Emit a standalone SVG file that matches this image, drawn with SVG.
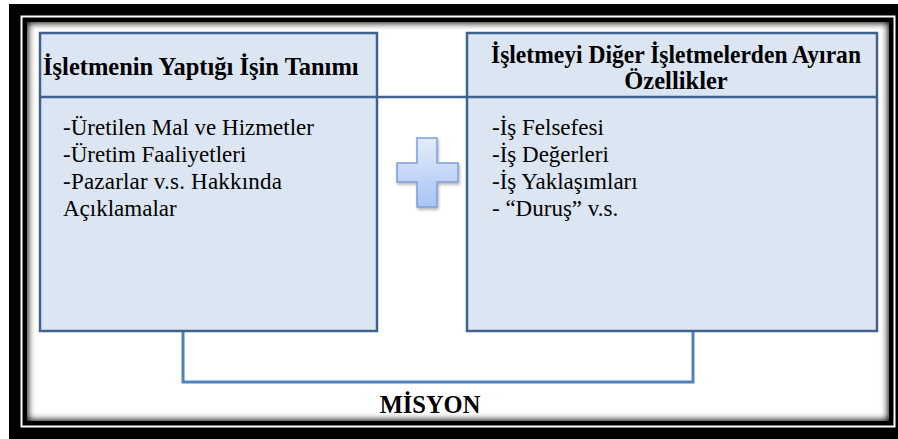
<svg xmlns="http://www.w3.org/2000/svg" width="898" height="439" viewBox="0 0 898 439">
<defs>
<style>
.box{fill:#dce6f2;stroke:#41628f;stroke-width:2.5}
.hdr{font-weight:bold;font-size:24.5px;fill:#000}
.body{font-size:23px;fill:#000}
.conn{fill:none;stroke:#4f81bd;stroke-width:3}
</style>
<linearGradient id="plusG" x1="0" y1="0" x2="0" y2="1">
<stop offset="0" stop-color="#e4ecfb"/>
<stop offset="1" stop-color="#a8c3f3"/>
</linearGradient>
<clipPath id="panelClip"><rect x="27" y="22" width="862" height="399"/></clipPath>
<filter id="blur" x="-5%" y="-5%" width="110%" height="110%"><feGaussianBlur stdDeviation="3.5"/></filter>
<filter id="sh" x="-20%" y="-20%" width="140%" height="140%"><feDropShadow dx="1" dy="2" stdDeviation="1.5" flood-color="#000" flood-opacity="0.3"/></filter>
</defs>
<g id="frame">
<rect x="9" y="4" width="895" height="440" fill="#000"/>
<rect x="21.5" y="16.5" width="873" height="410" fill="none" stroke="#fff" stroke-width="2"/>
<rect x="27" y="22" width="862" height="399" fill="#fff"/>
<g clip-path="url(#panelClip)">
<rect x="24" y="19" width="868" height="405" fill="none" stroke="#000" stroke-width="8" filter="url(#blur)"/>
</g>
</g>
<g id="connectors">
<line x1="40" y1="97" x2="877" y2="97" stroke="#41628f" stroke-width="2.5"/>
<path class="conn" d="M183 331 V382 H693 V331"/>
</g>
<g font-family="'Liberation Serif', 'Times New Roman', 'DejaVu Serif', serif">
<g id="left-box">
<rect class="box" x="40" y="33" width="337" height="298"/>
<line x1="40" y1="97" x2="377" y2="97" stroke="#41628f" stroke-width="2.5"/>
<text class="hdr" x="43" y="75">İşletmenin Yaptığı İşin Tanımı</text>
<text class="body" x="63" y="135">-Üretilen Mal ve Hizmetler</text>
<text class="body" x="63" y="162">-Üretim Faaliyetleri</text>
<text class="body" x="63" y="189" textLength="219" lengthAdjust="spacing">-Pazarlar v.s. Hakkında</text>
<text class="body" x="63" y="216">Açıklamalar</text>
</g>
<g id="right-box">
<rect class="box" x="467" y="33" width="410" height="298"/>
<line x1="467" y1="97" x2="877" y2="97" stroke="#41628f" stroke-width="2.5"/>
<text class="hdr" x="676" y="63" text-anchor="middle" textLength="370" lengthAdjust="spacingAndGlyphs">İşletmeyi Diğer İşletmelerden Ayıran</text>
<text class="hdr" x="676" y="89" text-anchor="middle">Özellikler</text>
<text class="body" x="492" y="135">-İş Felsefesi</text>
<text class="body" x="492" y="162">-İş Değerleri</text>
<text class="body" x="492" y="189">-İş Yaklaşımları</text>
<text class="body" x="492" y="216">- “Duruş” v.s.</text>
</g>
<g id="plus">
<path d="M417 138 H437 V163 H458 V182 H437 V207 H417 V182 H397 V163 H417 Z" fill="url(#plusG)" stroke="#7c9fd9" stroke-width="1.5" filter="url(#sh)"/>
</g>
<g id="misyon">
<text class="hdr" x="430" y="413" text-anchor="middle">MİSYON</text>
</g>
</g>
</svg>
